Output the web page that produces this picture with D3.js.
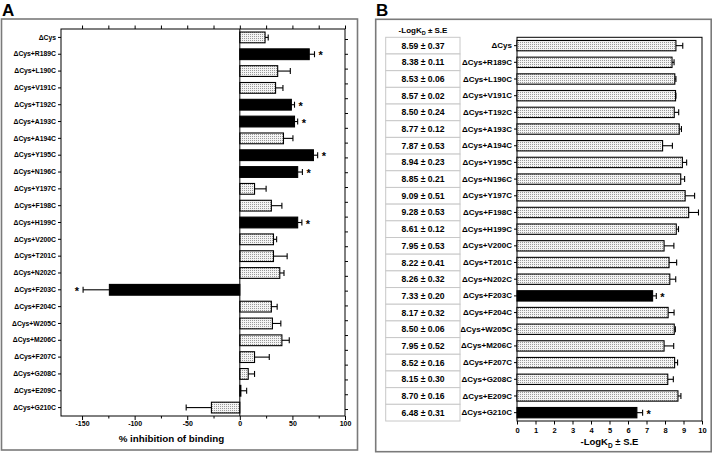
<!DOCTYPE html>
<html><head><meta charset="utf-8">
<script src="https://cdn.jsdelivr.net/npm/d3@7"></script>
<style>body{margin:0;background:#fff}svg{display:block}text{font-family:Arial,"Liberation Sans",sans-serif}</style>
</head><body><svg id="c" width="713" height="456"></svg>
<script>
const categories = ["ΔCys","ΔCys+R189C","ΔCys+L190C","ΔCys+V191C","ΔCys+T192C","ΔCys+A193C","ΔCys+A194C","ΔCys+Y195C","ΔCys+N196C","ΔCys+Y197C","ΔCys+F198C","ΔCys+H199C","ΔCys+V200C","ΔCys+T201C","ΔCys+N202C","ΔCys+F203C","ΔCys+F204C","ΔCys+W205C","ΔCys+M206C","ΔCys+F207C","ΔCys+G208C","ΔCys+E209C","ΔCys+G210C"];
const inhibition    = [24,66,36,34,49,52,41.5,70,55,14,30,55,32,32,38,-124,30,31,40,14,8,1,-27];
const inhibitionErr = [3,5,12,7,3,3,9,4,4.5,11,10,4,3,13,4,25,5.5,8,7,14,6,5.5,24];
const significantA  = [false,true,false,false,true,true,false,true,true,false,false,true,false,false,false,true,false,false,false,false,false,false,false];
const logKd    = [8.59,8.38,8.53,8.57,8.50,8.77,7.87,8.94,8.85,9.09,9.28,8.61,7.95,8.22,8.26,7.33,8.17,8.50,7.95,8.52,8.15,8.70,6.48];
const logKdErr = [0.37,0.11,0.06,0.02,0.24,0.12,0.53,0.23,0.21,0.51,0.53,0.12,0.53,0.41,0.32,0.20,0.32,0.06,0.52,0.16,0.30,0.16,0.31];
const significantB = [false,false,false,false,false,false,false,false,false,false,false,false,false,false,false,true,false,false,false,false,false,false,true];
const ticksA = [-150,-125,-100,-75,-50,-25,0,25,50,75,100];
const ticksB = [0,1,2,3,4,5,6,7,8,9,10];

const svg = d3.select("#c");
const defs = svg.append("defs");
const pat = defs.append("pattern").attr("id","dots").attr("patternUnits","userSpaceOnUse").attr("width",2).attr("height",2);
pat.append("rect").attr("width",2).attr("height",2).attr("fill","#f4f4f4");
pat.append("rect").attr("width",1).attr("height",1).attr("fill","#9a9a9a");

// panel frames
svg.append("rect").attr("x",1.5).attr("y",19).attr("width",356).attr("height",431).attr("fill","none").attr("stroke","#7a7a7a").attr("stroke-width",1.6);
svg.append("rect").attr("x",375.7).attr("y",19.3).attr("width",335.5).attr("height",432.4).attr("fill","none").attr("stroke","#7a7a7a").attr("stroke-width",1.6);
svg.append("text").attr("x",2).attr("y",16).attr("font-size",17).attr("font-weight","bold").text("A");
svg.append("text").attr("x",376).attr("y",16).attr("font-size",17).attr("font-weight","bold").text("B");

const data = categories.map((c,i)=>({c,a:inhibition[i],ae:inhibitionErr[i],sa:significantA[i],b:logKd[i],be:logKdErr[i],sb:significantB[i]}));

// ---------- Panel A ----------
const xA = d3.scaleLinear().domain([-170,100]).range([61,345]);
const yA = d3.scaleBand().domain(categories).range([29,416]).paddingInner(0.36).paddingOuter(0.18);
const gA = svg.append("g");
gA.append("rect").attr("x",61).attr("y",29).attr("width",284).attr("height",387).attr("fill","none").attr("stroke","#000").attr("stroke-width",1);

gA.selectAll("rect.bar").data(data).enter().append("rect").attr("class","bar")
  .attr("x",d=>xA(Math.min(0,d.a))).attr("y",d=>yA(d.c))
  .attr("width",d=>Math.abs(xA(d.a)-xA(0))).attr("height",yA.bandwidth())
  .attr("fill",d=>d.sa?"#000":"url(#dots)").attr("stroke","#000").attr("stroke-width",1.1);
gA.append("line").attr("x1",xA(0)).attr("x2",xA(0)).attr("y1",29).attr("y2",416).attr("stroke","#000").attr("stroke-width",1);
const eA = gA.selectAll("g.err").data(data).enter().append("g");
eA.append("line").attr("x1",d=>xA(d.a)).attr("x2",d=>xA(d.a+Math.sign(d.a||1)*d.ae))
  .attr("y1",d=>yA(d.c)+yA.bandwidth()/2).attr("y2",d=>yA(d.c)+yA.bandwidth()/2).attr("stroke","#000").attr("stroke-width",1.1);
eA.append("line").attr("x1",d=>xA(d.a+Math.sign(d.a||1)*d.ae)).attr("x2",d=>xA(d.a+Math.sign(d.a||1)*d.ae))
  .attr("y1",d=>yA(d.c)+yA.bandwidth()/2-3).attr("y2",d=>yA(d.c)+yA.bandwidth()/2+3).attr("stroke","#000").attr("stroke-width",1.1);
gA.selectAll("text.star").data(data.filter(d=>d.sa)).enter().append("text")
  .attr("x",d=>d.a>0? xA(d.a+d.ae)+4 : xA(d.a-d.ae)-4)
  .attr("text-anchor",d=>d.a>0?"start":"end")
  .attr("y",d=>yA(d.c)+yA.bandwidth()/2+5).attr("font-size",11).attr("font-weight","bold").text("*");

const axBA = gA.append("g").attr("transform","translate(0,416)")
  .call(d3.axisBottom(xA).tickValues(ticksA).tickSize(3.5).tickFormat(v=>v%50===0?v:""));
axBA.select(".domain").remove();
axBA.selectAll(".tick line").attr("y2",v=>v%50===0?4:2.5).attr("stroke-width",1);
axBA.selectAll("text").attr("font-size",7).attr("font-weight","bold").attr("font-family","Arial").attr("dy","0.95em").attr("y",3.5);
const axTA = gA.append("g").attr("transform","translate(0,29)")
  .call(d3.axisTop(xA).tickValues(ticksA).tickSize(3.5).tickFormat(""));
axTA.select(".domain").remove();
const axLA = gA.append("g").attr("transform","translate(61,0)").call(d3.axisLeft(yA).tickSize(3).tickPadding(2));
axLA.select(".domain").remove();
axLA.selectAll("text").attr("font-size",6.8).attr("font-weight","bold").attr("font-family","Arial");
const yR = d3.scaleLinear().domain([-0.676,25.47]).range([29,416]);
const axRA = gA.append("g").attr("transform","translate(345,0)").call(d3.axisRight(yR).tickValues(d3.range(26)).tickSize(3).tickFormat(""));
axRA.select(".domain").remove();
gA.append("text").attr("x",xA(-65)).attr("y",442).attr("text-anchor","middle").attr("font-size",9.8).attr("font-weight","bold").text("% inhibition of binding");

// ---------- Panel B ----------
const xB = d3.scaleLinear().domain([0,10]).range([517,702]);
const yB = d3.scaleBand().domain(categories).range([37.3,421]).paddingInner(0.38).paddingOuter(0.19);
const gB = svg.append("g");
gB.append("rect").attr("x",517).attr("y",37.3).attr("width",185).attr("height",383.7).attr("fill","none").attr("stroke","#000").attr("stroke-width",1);
gB.selectAll("rect.bar").data(data).enter().append("rect")
  .attr("x",xB(0)).attr("y",d=>yB(d.c)).attr("width",d=>xB(d.b)-xB(0)).attr("height",yB.bandwidth())
  .attr("fill",d=>d.sb?"#000":"url(#dots)").attr("stroke","#000").attr("stroke-width",1.1);
const eB = gB.selectAll("g.err").data(data).enter().append("g");
eB.append("line").attr("x1",d=>xB(d.b)).attr("x2",d=>xB(d.b+d.be))
  .attr("y1",d=>yB(d.c)+yB.bandwidth()/2).attr("y2",d=>yB(d.c)+yB.bandwidth()/2).attr("stroke","#000").attr("stroke-width",1.1);
eB.append("line").attr("x1",d=>xB(d.b+d.be)).attr("x2",d=>xB(d.b+d.be))
  .attr("y1",d=>yB(d.c)+yB.bandwidth()/2-3).attr("y2",d=>yB(d.c)+yB.bandwidth()/2+3).attr("stroke","#000").attr("stroke-width",1.1);
gB.selectAll("text.star").data(data.filter(d=>d.sb)).enter().append("text")
  .attr("x",d=>xB(d.b+d.be)+4).attr("y",d=>yB(d.c)+yB.bandwidth()/2+5).attr("font-size",11).attr("font-weight","bold").text("*");
const axBB = gB.append("g").attr("transform","translate(0,421)").call(d3.axisBottom(xB).tickValues(ticksB).tickSize(3.5));
axBB.select(".domain").remove();
axBB.selectAll("text").attr("font-size",7.5).attr("font-weight","bold").attr("font-family","Arial");
const axLB = gB.append("g").attr("transform","translate(517,0)").call(d3.axisLeft(yB).tickSize(3).tickPadding(2));
axLB.select(".domain").remove();
axLB.selectAll("text").attr("font-size",8).attr("font-weight","bold").attr("font-family","Arial");
const tB = gB.append("text").attr("x",xB(5)).attr("y",445).attr("text-anchor","middle").attr("font-size",9.5).attr("font-weight","bold");
tB.append("tspan").text("-LogK");
tB.append("tspan").attr("font-size",6.5).attr("dy",2.5).text("D");
tB.append("tspan").attr("dy",-2.5).text(" ± S.E");

// table
const rowStep = yB.step();
const tbl = gB.append("g");
tbl.selectAll("rect").data(data).enter().append("rect")
  .attr("x",385.7).attr("width",74.3).attr("y",d=>yB(d.c)-yB.step()*yB.paddingInner()/2).attr("height",rowStep)
  .attr("fill","#fff").attr("stroke","#c8c8c8").attr("stroke-width",1);
tbl.selectAll("text").data(data).enter().append("text")
  .attr("x",423).attr("y",d=>yB(d.c)+yB.bandwidth()/2+3)
  .attr("text-anchor","middle").attr("font-family","'Liberation Serif','Times New Roman',serif")
  .attr("font-size",8.6).attr("font-weight","bold").text(d=>d.b.toFixed(2)+" ± "+d.be.toFixed(2));
const th = gB.append("text").attr("x",423).attr("y",33).attr("text-anchor","middle").attr("font-size",8).attr("font-weight","bold");
th.append("tspan").text("-LogK");
th.append("tspan").attr("font-size",5.5).attr("dy",2).text("D");
th.append("tspan").attr("dy",-2).text(" ± S.E");
</script></body></html>
